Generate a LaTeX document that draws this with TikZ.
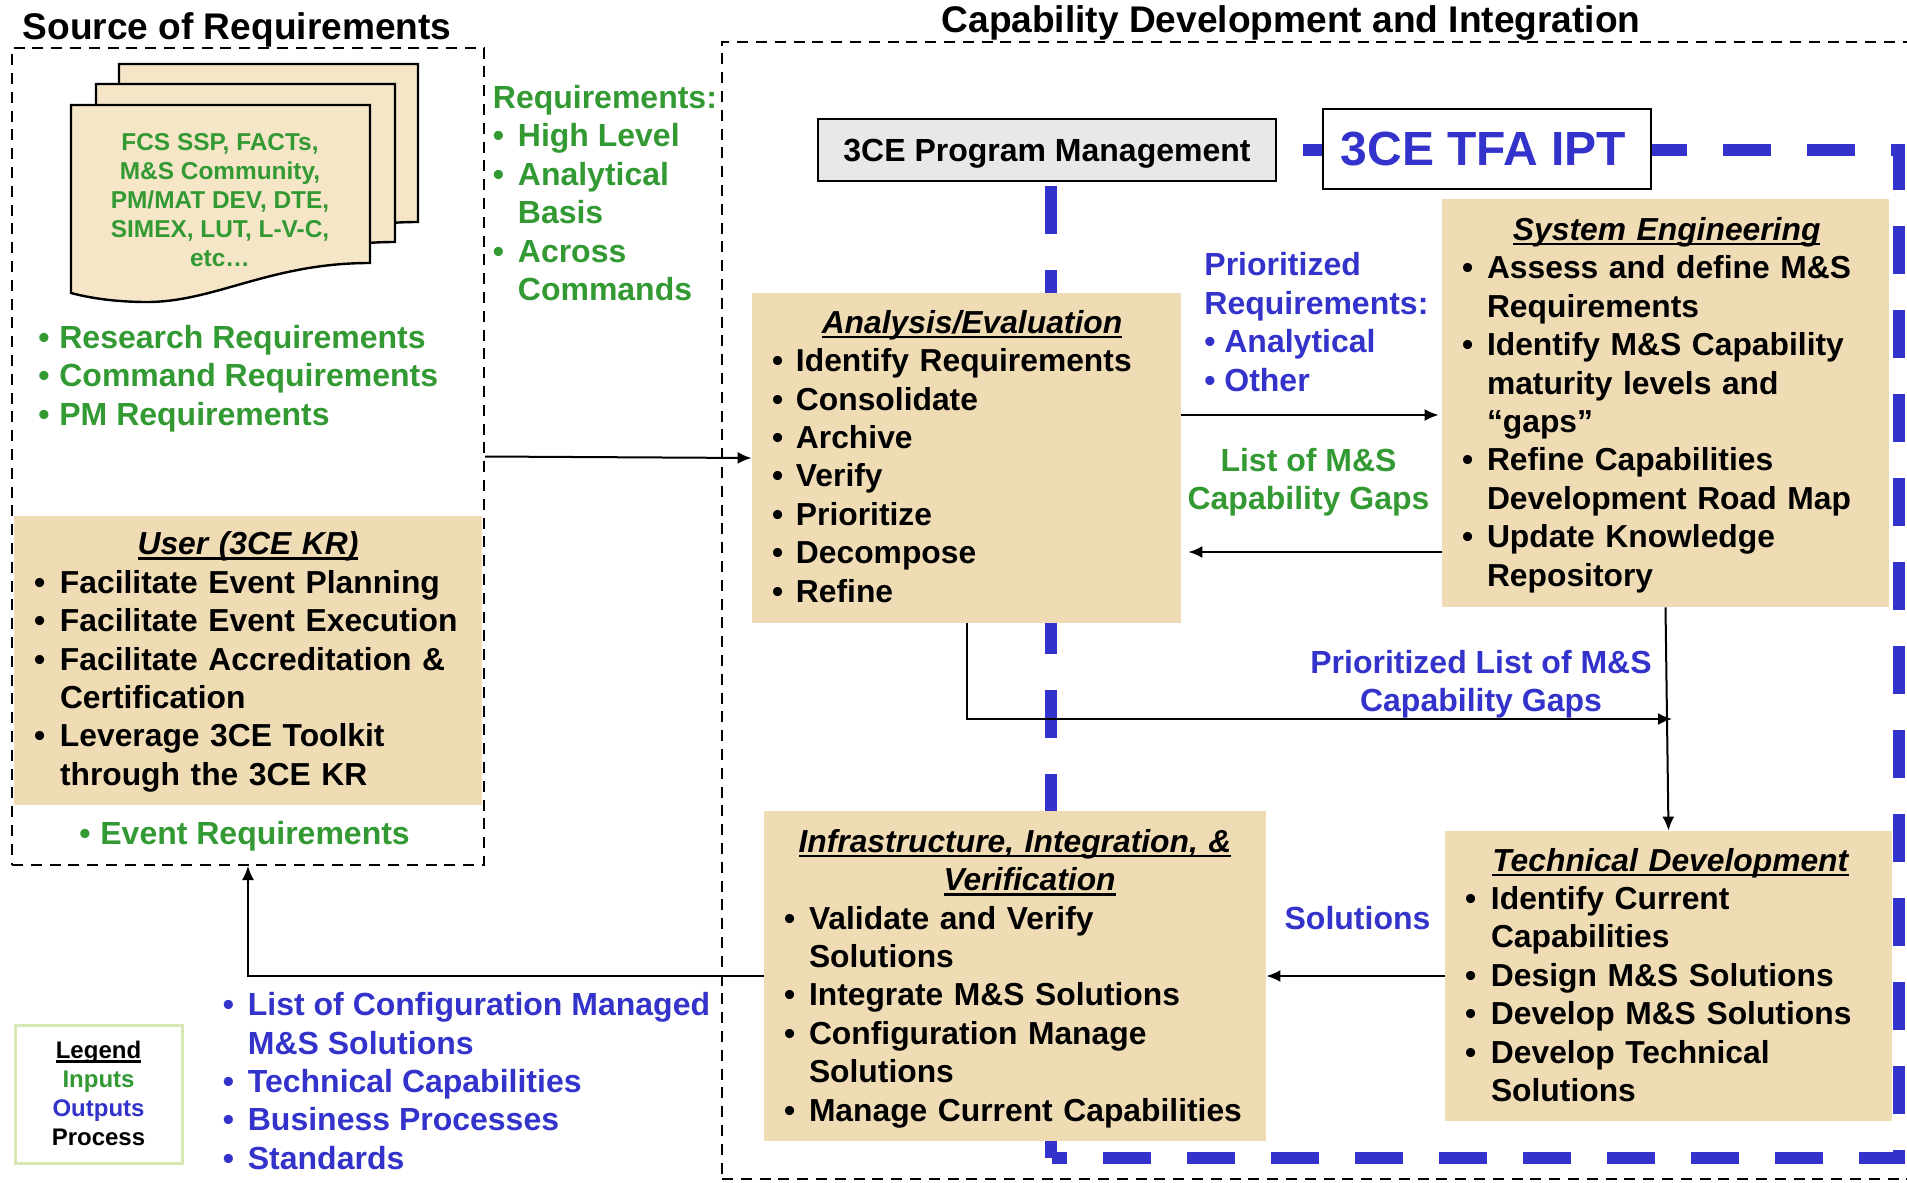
\documentclass[tikz,border=0pt]{standalone}
\usepackage{fontspec}
\setmainfont{Liberation Sans}
\usetikzlibrary{arrows.meta}
\definecolor{tanfill}{HTML}{F0DCB4}
\definecolor{docfill}{HTML}{F5E6C8}
\definecolor{ingreen}{HTML}{339933}
\definecolor{outblue}{HTML}{3333CC}
\definecolor{legendline}{HTML}{D8E8B4}
\newlength{\itmw}
\setlength{\itmw}{12.5pt}
\newsavebox{\ulbox}
\newcommand{\itm}{\makebox[\itmw][l]{\textbullet}}
\newcommand{\cont}{\hspace*{\itmw}}
\newcommand{\ul}[1]{\sbox{\ulbox}{#1}\rlap{\rule[-2.4pt]{\wd\ulbox}{1.2pt}}\usebox{\ulbox}}
\newcommand{\hd}[2][0pt]{\hspace*{\fill}\hspace*{#1}\ul{\textit{#2}}\hspace*{\fill}\mbox{}}
% invisible struts, they move the text of a box a little up or down
\newcommand{\topstrut}[1]{\rule{0pt}{#1}}
\newcommand{\botstrut}[1]{\rule[-#1]{0pt}{#1}}
\tikzset{
  bodyfont/.style={font=\bfseries\fontsize{16}{19.2}\selectfont},
  region/.style={draw,line width=1pt,dash pattern=on 5.5pt off 3.9pt,inner sep=0pt},
  tanbox/.style={fill=tanfill,font=\bfseries\fontsize{15.9}{19.2}\selectfont,inner xsep=10pt,inner ysep=0pt,align=left},
  inlabel/.style={text=ingreen,bodyfont,align=left,inner sep=0pt},
  outlabel/.style={text=outblue,bodyfont,align=left,inner sep=0pt},
  iptline/.style={draw=outblue,line width=6.25pt,dash pattern=on 24pt off 18pt},
  flow/.style={line width=1pt,-{Latex[length=7pt,width=6pt]}},
  docsheet/.style={draw,fill=docfill,line width=1.2pt}
}
\begin{document}
\begin{tikzpicture}[x=0.5pt,y=-0.5pt]
\useasboundingbox (0,0) rectangle (1907,1183);
% dashed regions
\node[region,minimum width=236pt,minimum height=408.5pt] (source) at (248,456.5) {};
\node[region,minimum width=596.5pt,minimum height=568.5pt] (capdev) at (1318.5,610.5) {};
\node[font=\bfseries\fontsize{18.55}{22}\selectfont] (sourcetitle) at (237,30) {Source of Requirements};
\node[font=\bfseries\fontsize{18.55}{22}\selectfont] (captitle) at (1291,23) {Capability Development and Integration};
% IPT outline
\coordinate (ipta) at (1303,150);
\coordinate (iptb) at (1899,150);
\coordinate (iptc) at (1899,1158);
\coordinate (iptd) at (1052,1158);
\coordinate (ipte) at (1051,186);
\draw[iptline] (ipta) -- (iptb) -- (iptc) -- (iptd);
\draw[iptline] (ipte) -- (1051,1158);
% documents
\foreach \dx/\dy in {48/-41,25/-21,0/0}{
  \draw[docsheet,shift={(\dx,\dy)}] (71,105) -- (370,105) -- (370,263)
    .. controls (270,263) and (215,302) .. (147,302)
    .. controls (115,302) and (90,298) .. (71,293) -- cycle;
}
\node[text=ingreen,font=\bfseries\fontsize{12.2}{14.5}\selectfont,align=center,inner sep=0pt] (docs) at (220,200) {FCS SSP, FACTs,\\M\&S Community,\\PM/MAT DEV, DTE,\\SIMEX, LUT, L-V-C,\\etc…};
\node[inlabel,anchor=west,execute at begin node={\setlength{\itmw}{10.5pt}}] (srclist) at (38,378.5) {\itm Research Requirements\\\itm Command Requirements\\\itm PM Requirements};
\node[inlabel,anchor=west,execute at begin node={\setlength{\itmw}{12.5pt}}] (reqlist) at (492.5,193) {Requirements:\\\itm High Level\\\itm Analytical\\\cont Basis\\\itm Across\\\cont Commands};
\node[tanbox,text width=214pt,minimum height=144.5pt,execute at begin node={\setlength{\itmw}{13pt}}] (user) at (248,660.5) {\topstrut{12.9pt}\hd{User (3CE KR)}\\
\itm Facilitate Event Planning\\
\itm Facilitate Event Execution\\
\itm Facilitate Accreditation \&\\
\cont Certification\\
\itm Leverage 3CE Toolkit\\
\cont through the 3CE KR};
\node[inlabel,anchor=west,execute at begin node={\setlength{\itmw}{10.5pt}}] (eventreq) at (79,836.5) {\itm Event Requirements};
% management boxes
\node[draw,fill=black!9,line width=1.2pt,bodyfont,minimum width=229pt,minimum height=31pt,inner sep=0pt,text height=15.3pt,text depth=3.4pt] (pm) at (1047,150) {3CE Program Management};
\node[draw,fill=white,line width=1.2pt,text=outblue,font=\bfseries\fontsize{24}{28}\selectfont,minimum width=164pt,minimum height=40pt,inner sep=0pt] (tfa) at (1487,149) {\hspace*{-3.6pt}3CE TFA IPT};
% process boxes
\node[tanbox,text width=194.5pt,minimum height=165pt,execute at begin node={\setlength{\itmw}{12pt}}] (analysis) at (966.5,458) {\hd[5.5pt]{Analysis/Evaluation}\\
\itm Identify Requirements\\
\itm Consolidate\\
\itm Archive\\
\itm Verify\\
\itm Prioritize\\
\itm Decompose\\
\itm Refine\botstrut{1.8pt}};
\node[tanbox,text width=203.5pt,minimum height=204pt] (se) at (1665.5,403) {\topstrut{13.5pt}\hd[1.2pt]{System Engineering}\\
\itm Assess and define M\&S\\
\cont Requirements\\
\itm Identify M\&S Capability\\
\cont maturity levels and\\
\cont “gaps”\\
\itm Refine Capabilities\\
\cont Development Road Map\\
\itm Update Knowledge\\
\cont Repository};
\node[tanbox,text width=231pt,minimum height=165pt] (infra) at (1015,976) {\topstrut{14.1pt}\hd{Infrastructure, Integration, \&}\\
\hd[14.6pt]{Verification}\\
\itm Validate and Verify\\
\cont Solutions\\
\itm Integrate M\&S Solutions\\
\itm Configuration Manage\\
\cont Solutions\\
\itm Manage Current Capabilities};
\node[tanbox,text width=203.5pt,minimum height=145pt,execute at begin node={\setlength{\itmw}{13pt}}] (tech) at (1668.5,976) {\hd[2.4pt]{Technical Development}\\
\itm Identify Current\\
\cont Capabilities\\
\itm Design M\&S Solutions\\
\itm Develop M\&S Solutions\\
\itm Develop Technical\\
\cont Solutions\botstrut{1.2pt}};
% labels
\node[outlabel,anchor=west,execute at begin node={\setlength{\itmw}{10pt}}] (prioreq) at (1204,322) {Prioritized\\Requirements:\\\itm Analytical\\\itm Other};
\node[inlabel,align=center] (gaps) at (1308.5,482) {List of M\&S\\Capability Gaps};
\node[outlabel,align=center] (priolist) at (1481,684.5) {Prioritized List of M\&S\\Capability Gaps};
\node[outlabel] (solutions) at (1357.5,918) {Solutions};
\node[outlabel,anchor=west,execute at begin node={\setlength{\itmw}{12.5pt}}] (outlist) at (222.5,1081) {\itm List of Configuration Managed\\\cont M\&S Solutions\\\itm Technical Capabilities\\\itm Business Processes\\\itm Standards};
% legend
\node[draw=legendline,line width=1.5pt,font=\bfseries\fontsize{12}{14.5}\selectfont,align=center,minimum width=83.5pt,minimum height=69pt,inner sep=0pt,text depth=1.2pt] (legend) at (98.5,1094) {\ul{Legend}\\\textcolor{ingreen}{Inputs}\\\textcolor{outblue}{Outputs}\\Process};
% connectors
\coordinate (merge) at (1672,719);
\draw[flow] (source.east) -- (analysis.west);
\draw[flow,shorten >=1.5pt] (analysis.east |- 0,415) -- (se.west |- 0,415);
\draw[flow,shorten >=3.5pt] (se.west |- 0,552) -- (analysis.east |- 0,552);
\draw[flow] (analysis.south) |- (merge);
\draw[flow] (se.south) -- (tech.north);
\draw[flow] (tech.west) -- (infra.east);
\draw[flow] (infra.west) -| (source.south);
\end{tikzpicture}
\end{document}
